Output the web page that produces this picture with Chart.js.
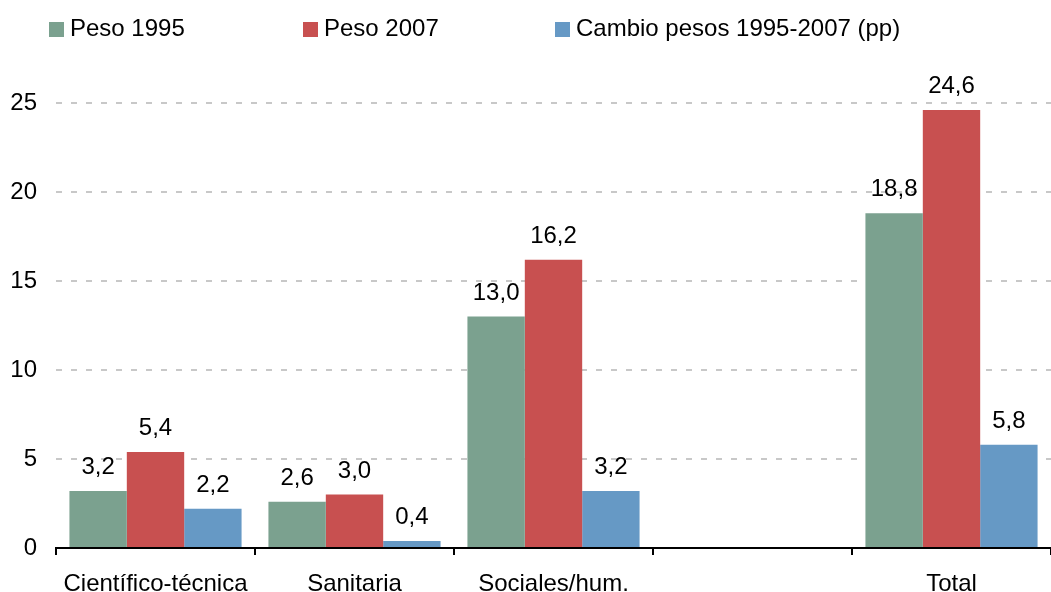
<!DOCTYPE html>
<html>
<head>
<meta charset="utf-8">
<script src="https://cdn.jsdelivr.net/npm/chart.js@4"></script>
<style>
  html, body {
    margin: 0;
    padding: 0;
    background: #fff;
    overflow: hidden;
  }
  #wrap {
    position: relative;
    width: 1051px;
    height: 592px;
  }
  #legend .item {
    position: absolute;
    top: 0;
  }
  #legend .box {
    position: absolute;
    left: 0;
    top: 22px;
    width: 15px;
    height: 15px;
  }
  #legend .txt {
    position: absolute;
    left: 21px;
    top: 14px;
    line-height: 28px;
    font-size: 24px;
    font-family: "Liberation Sans", Arial, sans-serif;
    color: #000;
    white-space: nowrap;
  }
</style>
</head>
<body>
<div id="wrap">
  <canvas id="barChart" width="1051" height="592"></canvas>
  <div id="legend"></div>
</div>
<script>
const categories = ["Científico-técnica", "Sanitaria", "Sociales/hum.", "", "Total"];
const peso1995 = [3.2, 2.6, 13.0, null, 18.8];
const peso2007 = [5.4, 3.0, 16.2, null, 24.6];
const cambio = [2.2, 0.4, 3.2, null, 5.8];
const seriesNames = ["Peso 1995", "Peso 2007", "Cambio pesos 1995-2007 (pp)"];
const yTicks = [0, 5, 10, 15, 20, 25];

const colors = ["#7BA18F", "#C85050", "#6699C5"];
const legendX = [49, 303, 555];
const fontFamily = "'Liberation Sans', Arial, sans-serif";

function fmt(v) {
  return v.toFixed(1).replace(".", ",");
}

const valueLabels = {
  id: "valueLabels",
  afterDatasetsDraw(chart) {
    const ctx = chart.ctx;
    ctx.save();
    ctx.font = "24px " + fontFamily;
    ctx.fillStyle = "#000";
    ctx.textAlign = "center";
    ctx.textBaseline = "alphabetic";
    chart.data.datasets.forEach((ds, i) => {
      const meta = chart.getDatasetMeta(i);
      meta.data.forEach((bar, j) => {
        const v = ds.data[j];
        if (v === null || v === undefined) return;
        ctx.fillText(fmt(v), bar.x, bar.y - 17);
      });
    });
    ctx.restore();
  },
};

function buildLegend(datasets) {
  const el = document.getElementById("legend");
  datasets.forEach((ds, i) => {
    const item = document.createElement("div");
    item.className = "item";
    item.style.left = legendX[i] + "px";
    const box = document.createElement("div");
    box.className = "box";
    box.style.background = ds.backgroundColor;
    const txt = document.createElement("span");
    txt.className = "txt";
    txt.textContent = ds.label;
    item.appendChild(box);
    item.appendChild(txt);
    el.appendChild(item);
  });
}

const datasets = [peso1995, peso2007, cambio].map((d, i) => ({
  label: seriesNames[i],
  data: d,
  backgroundColor: colors[i],
  borderWidth: 0,
  categoryPercentage: 0.865,
  barPercentage: 1.0,
}));

const ctx = document.getElementById("barChart");
window.barChart = new Chart(ctx, {
  type: "bar",
  data: {
    labels: categories,
    datasets: datasets,
  },
  options: {
    responsive: false,
    animation: false,
    layout: {
      padding: { top: 103, left: 0, right: 0, bottom: 0 },
    },
    scales: {
      x: {
        offset: true,
        grid: {
          offset: true,
          drawOnChartArea: false,
          drawTicks: true,
          tickLength: 7,
          color: "#000",
          lineWidth: 2,
        },
        border: {
          display: true,
          color: "#000",
          width: 2,
        },
        ticks: {
          color: "#000",
          padding: 15,
          maxRotation: 0,
          autoSkip: false,
          font: { size: 24, family: fontFamily },
        },
        afterFit: (axis) => {
          axis.height = 44;
        },
      },
      y: {
        min: 0,
        max: 25,
        afterBuildTicks: (axis) => {
          axis.ticks = yTicks.map((v) => ({ value: v }));
        },
        grid: {
          drawTicks: false,
          color: "#C8C8C8",
          lineWidth: 2,
        },
        border: {
          display: false,
          dash: [6, 9],
        },
        ticks: {
          color: "#000",
          padding: 19,
          font: { size: 24, family: fontFamily },
        },
        afterFit: (axis) => {
          axis.width = 56;
        },
      },
    },
    plugins: {
      legend: { display: false },
      tooltip: { enabled: false },
    },
  },
  plugins: [valueLabels],
});

buildLegend(datasets);
</script>
</body>
</html>
